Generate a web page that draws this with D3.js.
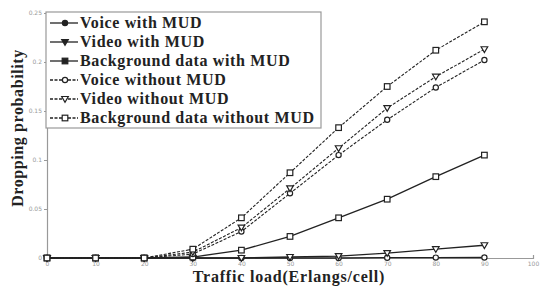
<!DOCTYPE html>
<html>
<head>
<meta charset="utf-8">
<script src="https://cdn.jsdelivr.net/npm/d3@7"></script>
<style>
body { margin: 0; background: #fff; }
</style>
</head>
<body>
<div class="box"></div>
<script>
const dims = {width: 541, height: 288};
const margin = {left: 47, top: 13, right: 8, bottom: 30};

// données
const charge = [0, 10, 20, 30, 40, 50, 60, 70, 80, 90];
const voixAvec = [0, 0, 0, 0, 0, 0, 0, 0.0003, 0.0004, 0.0005];
const videoAvec = [0, 0, 0, 0, 0, 0.001, 0.002, 0.005, 0.009, 0.013];
const fondAvec = [0, 0, 0, 0.001, 0.008, 0.022, 0.041, 0.060, 0.083, 0.105];
const voixSans = [0, 0, 0, 0.004, 0.027, 0.066, 0.105, 0.141, 0.174, 0.202];
const videoSans = [0, 0, 0, 0.006, 0.031, 0.071, 0.112, 0.153, 0.185, 0.213];
const fondSans = [0, 0, 0, 0.009, 0.041, 0.087, 0.133, 0.175, 0.212, 0.241];
const xTicks = [0, 10, 20, 30, 40, 50, 60, 70, 80, 90, 100];
const yTicks = [0, 0.05, 0.1, 0.15, 0.2, 0.25];

const series = [
    {nom: 'Voice with MUD', valeurs: voixAvec, forme: 'circle', pointille: false},
    {nom: 'Video with MUD', valeurs: videoAvec, forme: 'tri', pointille: false},
    {nom: 'Background data with MUD', valeurs: fondAvec, forme: 'square', pointille: false},
    {nom: 'Voice without MUD', valeurs: voixSans, forme: 'circle', pointille: true},
    {nom: 'Video without MUD', valeurs: videoSans, forme: 'tri', pointille: true},
    {nom: 'Background data without MUD', valeurs: fondSans, forme: 'square', pointille: true}
];

const svg = d3.select('.box')
              .append('svg')
              .attr('width', dims.width)
              .attr('height', dims.height);

const x = d3.scaleLinear().domain([0, 100]).range([margin.left, 533]);
const y = d3.scaleLinear().domain([0, 0.25]).range([258, margin.top]);

// axes
const axeX = svg.append('g')
                .attr('transform', `translate(0, ${y(0)})`)
                .call(d3.axisBottom(x).tickValues(xTicks).tickSize(-3).tickPadding(4).tickFormat(d3.format('d')));
const axeY = svg.append('g')
                .attr('transform', `translate(${x(0)}, 0)`)
                .call(d3.axisLeft(y).tickValues(yTicks).tickSize(3).tickPadding(2).tickFormat(d => d === 0 ? '0' : d));

[axeX, axeY].forEach(a => {
    a.select('.domain').attr('stroke', '#999').attr('stroke-width', 1.2);
    a.selectAll('.tick line').attr('stroke', '#999');
    a.selectAll('text').attr('fill', '#999').style('font-family', 'DejaVu Sans').style('font-size', '6px');
});

// symboles
const symbole = (g, forme, cx, cy, plein) => {
    const fill = plein ? '#222' : '#fff';
    if (forme === 'circle') {
        g.append('circle').attr('cx', cx).attr('cy', cy).attr('r', 2.6)
         .attr('fill', fill).attr('stroke', '#222').attr('stroke-width', 1.2);
    } else if (forme === 'square') {
        g.append('rect').attr('x', cx - 2.8).attr('y', cy - 2.8).attr('width', 5.6).attr('height', 5.6)
         .attr('fill', fill).attr('stroke', '#222').attr('stroke-width', 1.2);
    } else {
        g.append('path').attr('d', `M${cx - 3.3},${cy - 2.5}L${cx + 3.3},${cy - 2.5}L${cx},${cy + 3.2}Z`)
         .attr('fill', fill).attr('stroke', '#222').attr('stroke-width', 1.2);
    }
};

const ligne = d3.line().x((d, i) => x(charge[i])).y(d => y(d));

const graph = svg.append('g');
series.forEach(s => {
    graph.append('path')
         .attr('d', ligne(s.valeurs))
         .attr('fill', 'none')
         .attr('stroke', '#222')
         .attr('stroke-width', s.pointille ? 1.1 : 1.3)
         .attr('stroke-dasharray', s.pointille ? '3,1.5' : null);
    s.valeurs.forEach((v, i) => symbole(graph, s.forme, x(charge[i]), y(v), false));
});

// légendes
const groupeLegendes = svg.append('g');
groupeLegendes.append('rect')
              .attr('x', 46).attr('y', 12).attr('width', 275).attr('height', 116)
              .attr('fill', '#fff').attr('stroke', '#999').attr('stroke-width', 1.2);

series.forEach((s, i) => {
    const ly = 23 + i * 19;
    groupeLegendes.append('line')
                  .attr('x1', 50).attr('x2', 78).attr('y1', ly).attr('y2', ly)
                  .attr('stroke', '#222').attr('stroke-width', 1.3)
                  .attr('stroke-dasharray', s.pointille ? '3,1.5' : null);
    symbole(groupeLegendes, s.forme, 65, ly, !s.pointille);
    groupeLegendes.append('text')
                  .attr('x', 80).attr('y', ly + 5)
                  .attr('fill', '#222')
                  .style('font-family', 'Liberation Serif')
                  .style('font-weight', 'bold')
                  .style('font-size', '16px')
                  .style('letter-spacing', '0.65px')
                  .text(s.nom);
});

// titres des axes
svg.append('text')
   .attr('x', 289).attr('y', 282)
   .attr('text-anchor', 'middle')
   .attr('fill', '#222')
   .style('font-family', 'Liberation Serif').style('font-weight', 'bold').style('font-size', '16px')
   .style('letter-spacing', '0.8px')
   .text('Traffic load(Erlangs/cell)');

svg.append('text')
   .attr('transform', 'translate(23, 128) rotate(-90)')
   .attr('text-anchor', 'middle')
   .attr('fill', '#222')
   .style('font-family', 'Liberation Serif').style('font-weight', 'bold').style('font-size', '16px')
   .style('letter-spacing', '0.6px')
   .text('Dropping probability');
</script>
</body>
</html>
